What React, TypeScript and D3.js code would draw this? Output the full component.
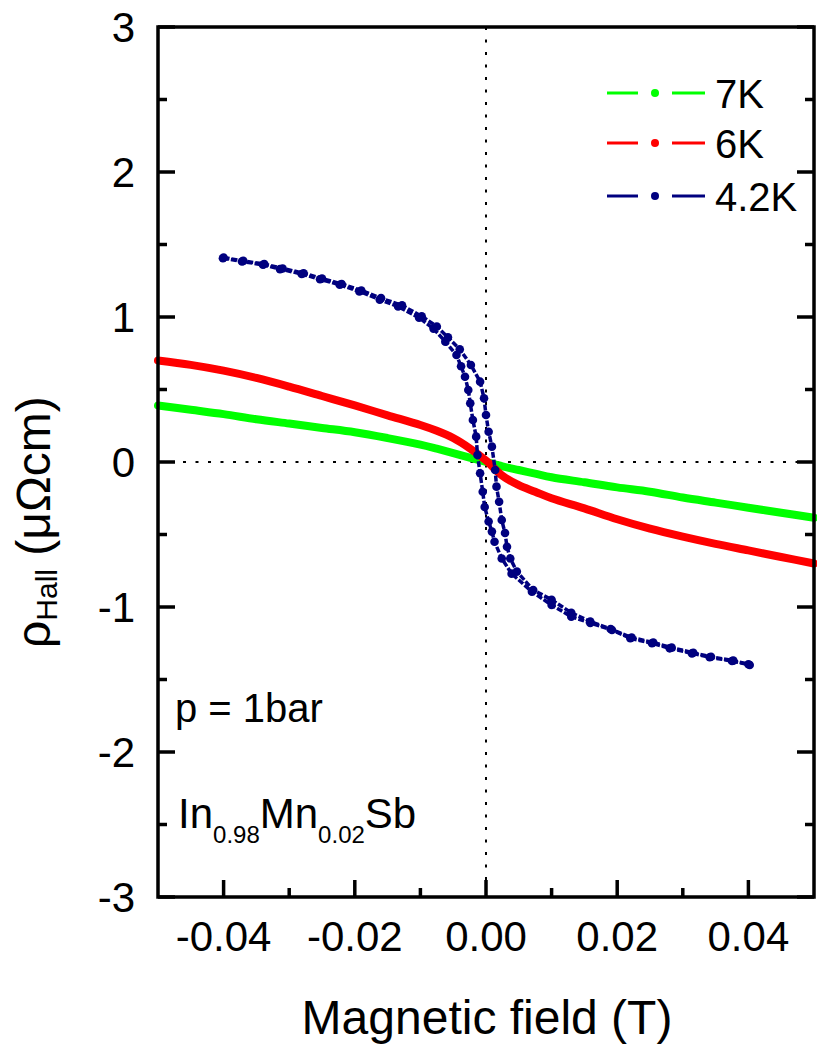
import React from 'react';
import * as d3 from 'd3';

const W = 817;
const H = 1045;
const FONT = '"Liberation Sans", Arial, sans-serif';

// ---- data ----
const xTickValues = [-0.04, -0.02, 0, 0.02, 0.04];
const xTickLabels = ['-0.04', '-0.02', '0.00', '0.02', '0.04'];
const xMinorValues = [-0.03, -0.01, 0.01, 0.03];
const yTickValues = [-3, -2, -1, 0, 1, 2, 3];
const yTickLabels = ['-3', '-2', '-1', '0', '1', '2', '3'];
const yMinorValues = [-2.5, -1.5, -0.5, 0.5, 1.5, 2.5];

const field = [-0.05, -0.045, -0.04, -0.035, -0.03, -0.025, -0.02, -0.015, -0.01, -0.0075, -0.005, -0.0025, 0,
  0.0025, 0.005, 0.0075, 0.01, 0.015, 0.02, 0.025, 0.03, 0.035, 0.04, 0.045, 0.05];
const rho7K = [0.39, 0.36, 0.33, 0.295, 0.265, 0.235, 0.205, 0.165, 0.12, 0.092, 0.062, 0.03, 0.0,
  -0.03, -0.055, -0.08, -0.105, -0.14, -0.175, -0.205, -0.245, -0.28, -0.315, -0.35, -0.385];
const rho6K = [0.70, 0.67, 0.63, 0.58, 0.52, 0.455, 0.39, 0.322, 0.255, 0.215, 0.165, 0.095, 0.01,
  -0.095, -0.16, -0.205, -0.25, -0.32, -0.395, -0.46, -0.515, -0.565, -0.61, -0.655, -0.70];

// 4.2K hysteresis loop, two sweep branches
const fieldA = [-0.0401, -0.0372, -0.034, -0.0314, -0.0281, -0.0253, -0.0223, -0.0193, -0.0162, -0.0134, -0.0102,
  -0.008, -0.0062, -0.0045, -0.0038, -0.0032, -0.0027, -0.0024, -0.002, -0.0015, -0.0013, -0.0009, -0.0005, -0.0002,
  0.0004, 0.0009, 0.0013, 0.0024, 0.0039, 0.007, 0.01, 0.013, 0.0159, 0.0192, 0.022, 0.0253, 0.028, 0.0314, 0.0341,
  0.0375, 0.0402];
const rhoA = [1.405, 1.383, 1.36, 1.33, 1.297, 1.26, 1.222, 1.176, 1.12, 1.072, 0.995,
  0.92, 0.83, 0.738, 0.66, 0.588, 0.497, 0.405, 0.29, 0.175, 0.048, -0.078, -0.205, -0.31,
  -0.41, -0.48, -0.55, -0.665, -0.77, -0.894, -0.986, -1.067, -1.11, -1.159, -1.216, -1.25, -1.285, -1.32, -1.347,
  -1.372, -1.4];
const fieldB = [-0.04, -0.037, -0.0338, -0.031, -0.0278, -0.025, -0.022, -0.019, -0.016, -0.0128, -0.0098,
  -0.0075, -0.0058, -0.004, -0.0023, -0.0009, -0.0003, 0.0, 0.0004, 0.0009, 0.0014, 0.0016, 0.002, 0.0024,
  0.0029, 0.0032, 0.0037, 0.0047, 0.0072, 0.01, 0.013, 0.0159, 0.019, 0.0222, 0.0255, 0.0283, 0.0316, 0.0343,
  0.0377, 0.04];
const rhoB = [1.41, 1.387, 1.365, 1.335, 1.302, 1.265, 1.228, 1.183, 1.13, 1.08, 1.005,
  0.935, 0.86, 0.777, 0.669, 0.554, 0.44, 0.324, 0.209, 0.106, -0.055, -0.17, -0.274, -0.4,
  -0.49, -0.584, -0.665, -0.756, -0.883, -0.95, -1.04, -1.1, -1.152, -1.21, -1.245, -1.28, -1.316, -1.343,
  -1.37, -1.395];

const legendLabels = ['7K', '6K', '4.2K'];
const legendColors = ['#00ff00', '#ff0000', '#00007f'];

const PL = 158, PR = 814, PT = 27, PB = 897;

export default function App() {
  const x = d3.scaleLinear().domain([-0.05, 0.05]).range([PL, PR]);
  const y = d3.scaleLinear().domain([-3, 3]).range([PB, PT]);
  const line = d3.line<[number, number]>().x(d => x(d[0])).y(d => y(d[1])).curve(d3.curveCatmullRom);
  const lineLin = d3.line<[number, number]>().x(d => x(d[0])).y(d => y(d[1]));

  const g7 = field.map((f, i) => [f, rho7K[i]] as [number, number]);
  const g6 = field.map((f, i) => [f, rho6K[i]] as [number, number]);
  const bA = fieldA.map((f, i) => [f, rhoA[i]] as [number, number]);
  const bB = fieldB.map((f, i) => [f, rhoB[i]] as [number, number]);

  const MAJ = 17, MIN = 9, SW = 3.5;
  const legendY = [93, 143, 196];

  return (
    <svg width={W} height={H} style={{ position: 'absolute', left: 0, top: 0, background: '#fff' }}
      fontFamily={FONT}>
      <rect x={0} y={0} width={W} height={H} fill="#fff" />
      {/* zero lines */}
      <line x1={PL} x2={PR} y1={y(0)} y2={y(0)} stroke="#000" strokeWidth={2} strokeDasharray="3,9.5" />
      <line x1={x(0)} x2={x(0)} y1={PT} y2={PB} stroke="#000" strokeWidth={2} strokeDasharray="3,9.5" />

      {/* series */}
      <path d={line(g7) || ''} fill="none" stroke="#00ff00" strokeWidth={8} strokeLinecap="round" />
      <path d={line(g6) || ''} fill="none" stroke="#ff0000" strokeWidth={8} strokeLinecap="round" />
      {[bA, bB].map((b, k) => (
        <g key={k}>
          <path d={lineLin(b) || ''} fill="none" stroke="#00007f" strokeWidth={3.5} strokeDasharray="6,2" />
          {b.map((d, i) => <circle key={i} cx={x(d[0])} cy={y(d[1])} r={4.3} fill="#00007f" />)}
        </g>
      ))}

      {/* frame */}
      <rect x={PL} y={PT} width={PR - PL} height={PB - PT} fill="none" stroke="#000" strokeWidth={SW} />
      {xTickValues.map(v => <line key={'xm' + v} x1={x(v)} x2={x(v)} y1={PB} y2={PB - MAJ} stroke="#000" strokeWidth={SW} />)}
      {xMinorValues.map(v => <line key={'xn' + v} x1={x(v)} x2={x(v)} y1={PB} y2={PB - MIN} stroke="#000" strokeWidth={SW} />)}
      {yTickValues.map(v => (
        <g key={'ym' + v}>
          <line x1={PL} x2={PL + MAJ} y1={y(v)} y2={y(v)} stroke="#000" strokeWidth={SW} />
          <line x1={PR} x2={PR - MAJ} y1={y(v)} y2={y(v)} stroke="#000" strokeWidth={SW} />
        </g>
      ))}
      {yMinorValues.map(v => (
        <g key={'yn' + v}>
          <line x1={PL} x2={PL + MIN} y1={y(v)} y2={y(v)} stroke="#000" strokeWidth={SW} />
          <line x1={PR} x2={PR - MIN} y1={y(v)} y2={y(v)} stroke="#000" strokeWidth={SW} />
        </g>
      ))}

      {/* tick labels */}
      {xTickValues.map((v, i) => (
        <text key={'xl' + v} x={x(v)} y={951} textAnchor="middle" fontSize={42}>{xTickLabels[i]}</text>
      ))}
      {yTickValues.map((v, i) => (
        <text key={'yl' + v} x={135} y={y(v) + 15} textAnchor="end" fontSize={42}>{yTickLabels[i]}</text>
      ))}

      {/* axis titles */}
      <text x={487} y={1034} textAnchor="middle" fontSize={48}>Magnetic field (T)</text>
      <text transform={`translate(50,648) rotate(-90)`} fontSize={48}>
        <tspan>ρ</tspan>
        <tspan fontSize={30} dy={7}>Hall</tspan>
        <tspan dy={-7}> (μΩcm)</tspan>
      </text>

      {/* legend */}
      {legendLabels.map((lab, i) => {
        const ly = legendY[i];
        const c = legendColors[i];
        return (
          <g key={lab}>
            <line x1={607} x2={638} y1={ly} y2={ly} stroke={c} strokeWidth={3} />
            <line x1={672} x2={705} y1={ly} y2={ly} stroke={c} strokeWidth={3} />
            <circle cx={655} cy={ly} r={4} fill={c} />
            <text x={715} y={ly + 14.5} fontSize={40}>{lab}</text>
          </g>
        );
      })}

      {/* annotations */}
      <text x={175} y={722} fontSize={40}>p = 1bar</text>
      <text x={178} y={828} fontSize={42}>
        <tspan>In</tspan>
        <tspan fontSize={24} dy={15}>0.98</tspan>
        <tspan dy={-15}>Mn</tspan>
        <tspan fontSize={24} dy={15}>0.02</tspan>
        <tspan dy={-15}>Sb</tspan>
      </text>
    </svg>
  );
}
